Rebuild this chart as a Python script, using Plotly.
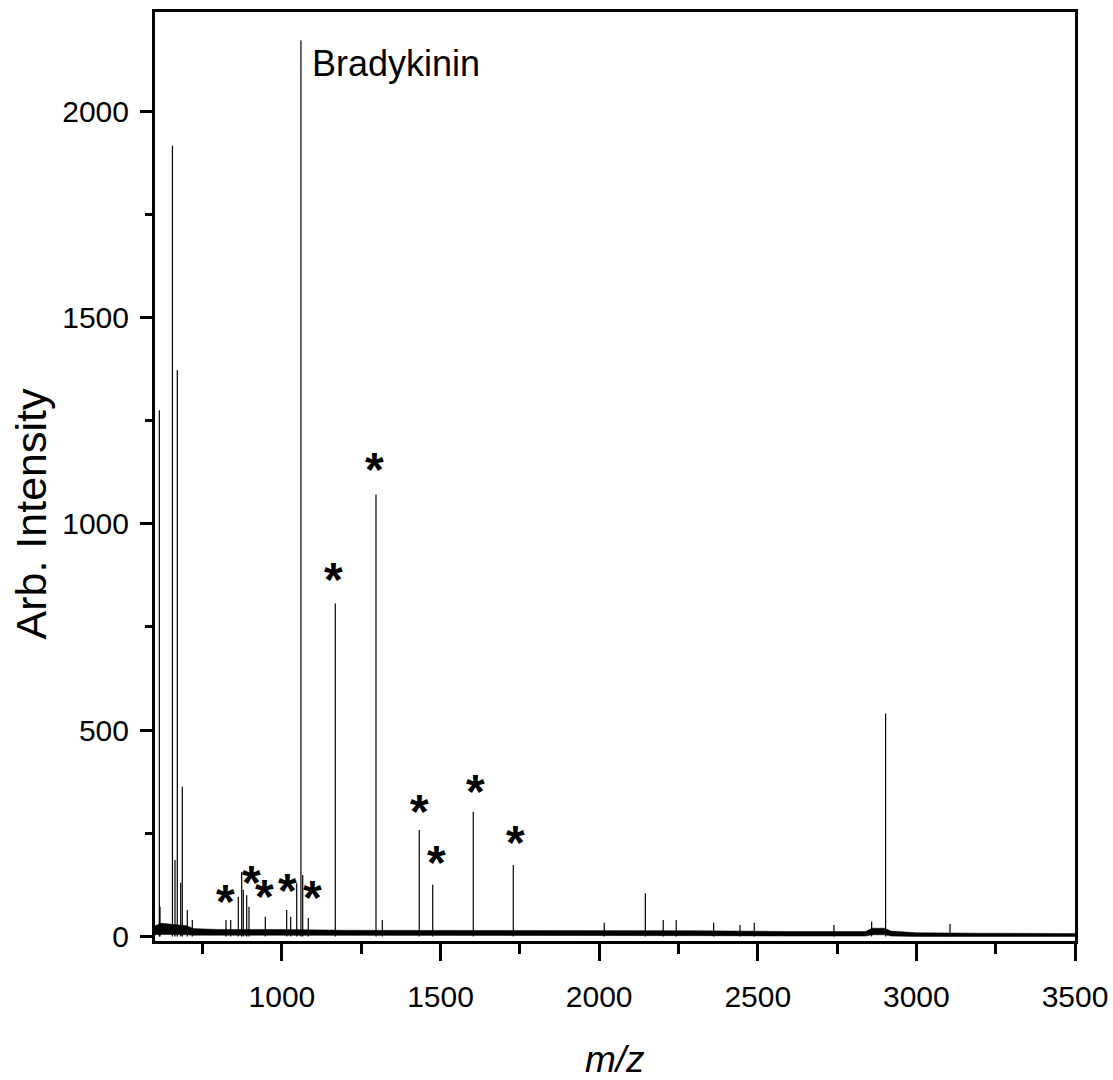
import plotly.graph_objects as go

# ---- data (m/z, intensity) ----
peak_mz = [613.6, 615.8, 655.0, 663.0, 670.3, 681.0, 686.0, 701.8, 717.6,
           823.8, 838.6, 862.6, 873.3, 878.3, 889.0, 896.3, 947.7,
           1015.0, 1027.7, 1046.7, 1060.0, 1065.6, 1083.2, 1168.3,
           1296.6, 1316.5, 1433.0, 1475.4, 1603.3, 1729.4,
           2016.0, 2145.6, 2202.0, 2243.0, 2361.0, 2444.0, 2489.0,
           2740.0, 2859.0, 2903.0, 3106.0]
peak_int = [1275, 72, 1916, 185, 1372, 130, 363, 64, 40,
            40, 40, 96, 157, 113, 100, 72, 48,
            64, 48, 129, 2171, 149, 45, 807,
            1071, 40, 258, 125, 302, 173,
            33, 105, 40, 40, 33, 28, 33,
            28, 36, 540, 30]

# noisy baseline band (upper / lower envelope)
noise_mz = [600, 620, 700, 720, 800, 1000, 1200, 1500, 1800, 2000, 2300,
            2600, 2840, 2860, 2900, 2920, 3000, 3200, 3500]
noise_hi = [26, 32, 26, 19, 17, 17, 15, 15, 15, 14, 14,
            12, 12, 20, 20, 13, 9, 8, 7]
noise_lo = [4, 5, 4, 3, 3, 3, 3, 3, 3, 2, 2,
            1, 1, 4, 4, 1, 0, 0, 0]

# asterisk markers
star_mz = [820.7, 904.8, 946.7, 1017.0, 1097.0, 1164.0, 1293.0,
           1435.0, 1488.0, 1609.0, 1735.0]
star_int = [100, 146, 111, 127, 108, 880, 1147, 318, 193, 367, 242]

label_text = "Bradykinin"
label_mz, label_int = 1088.6, 2115

x_ticks = [1000, 1500, 2000, 2500, 3000, 3500]
y_ticks = [0, 500, 1000, 1500, 2000]

# ---- build stick trace ----
sx, sy = [], []
for m, i in zip(peak_mz, peak_int):
    sx += [m, m, None]
    sy += [0, i, None]

fig = go.Figure()
fig.add_trace(go.Scatter(x=noise_mz, y=noise_lo, mode="lines",
                         line=dict(color="black", width=0.5), showlegend=False))
fig.add_trace(go.Scatter(x=noise_mz, y=noise_hi, mode="lines", fill="tonexty",
                         fillcolor="black", line=dict(color="black", width=0.5),
                         showlegend=False))
fig.add_trace(go.Scatter(x=sx, y=sy, mode="lines",
                         line=dict(color="black", width=1.2), showlegend=False))

FONT = "Liberation Sans, Arial, sans-serif"

for m, i in zip(star_mz, star_int):
    fig.add_annotation(x=m, y=i, text="<b>*</b>", showarrow=False,
                       xanchor="center", yanchor="middle", yshift=-6,
                       font=dict(family=FONT, size=48, color="black"))

fig.add_annotation(x=label_mz, y=label_int, text=label_text, showarrow=False,
                   xanchor="left", yanchor="middle",
                   font=dict(family=FONT, size=36, color="black"))

fig.add_annotation(x=0.5, y=-0.128, xref="paper", yref="paper", text="<i>m/z</i>",
                   showarrow=False, xanchor="center", yanchor="middle",
                   font=dict(family=FONT, size=37, color="black"))
fig.add_annotation(x=-0.135, y=0.46, xref="paper", yref="paper", text="Arb. Intensity",
                   showarrow=False, xanchor="center", yanchor="middle", textangle=-90,
                   font=dict(family=FONT, size=43, color="black"))

fig.update_xaxes(range=[600, 3500], tickvals=x_ticks, ticks="outside", ticklen=17,
                 tickwidth=3, tickcolor="black", showline=True, linewidth=3,
                 linecolor="black", mirror=True, showgrid=False, zeroline=False,
                 ticklabeloverflow="allow", automargin=False, ticklabelstandoff=10,
                 minor=dict(ticks="outside", ticklen=10, tickwidth=3, tickcolor="black",
                            dtick=250, tick0=0, showgrid=False),
                 tickfont=dict(family=FONT, size=30, color="black"))
fig.update_yaxes(range=[-11, 2240], tickvals=y_ticks, ticks="outside", ticklen=12,
                 tickwidth=3, tickcolor="black", showline=True, linewidth=3,
                 linecolor="black", mirror=True, showgrid=False, zeroline=False,
                 automargin=False, ticklabelstandoff=5,
                 minor=dict(ticks="outside", ticklen=7, tickwidth=3, tickcolor="black",
                            dtick=250, tick0=0, showgrid=False),
                 tickfont=dict(family=FONT, size=30, color="black"))

fig.update_layout(width=1113, height=1080, margin=dict(l=155, r=38, t=12, b=139),
                  plot_bgcolor="white", paper_bgcolor="white")

fig.write_html("out.html")
